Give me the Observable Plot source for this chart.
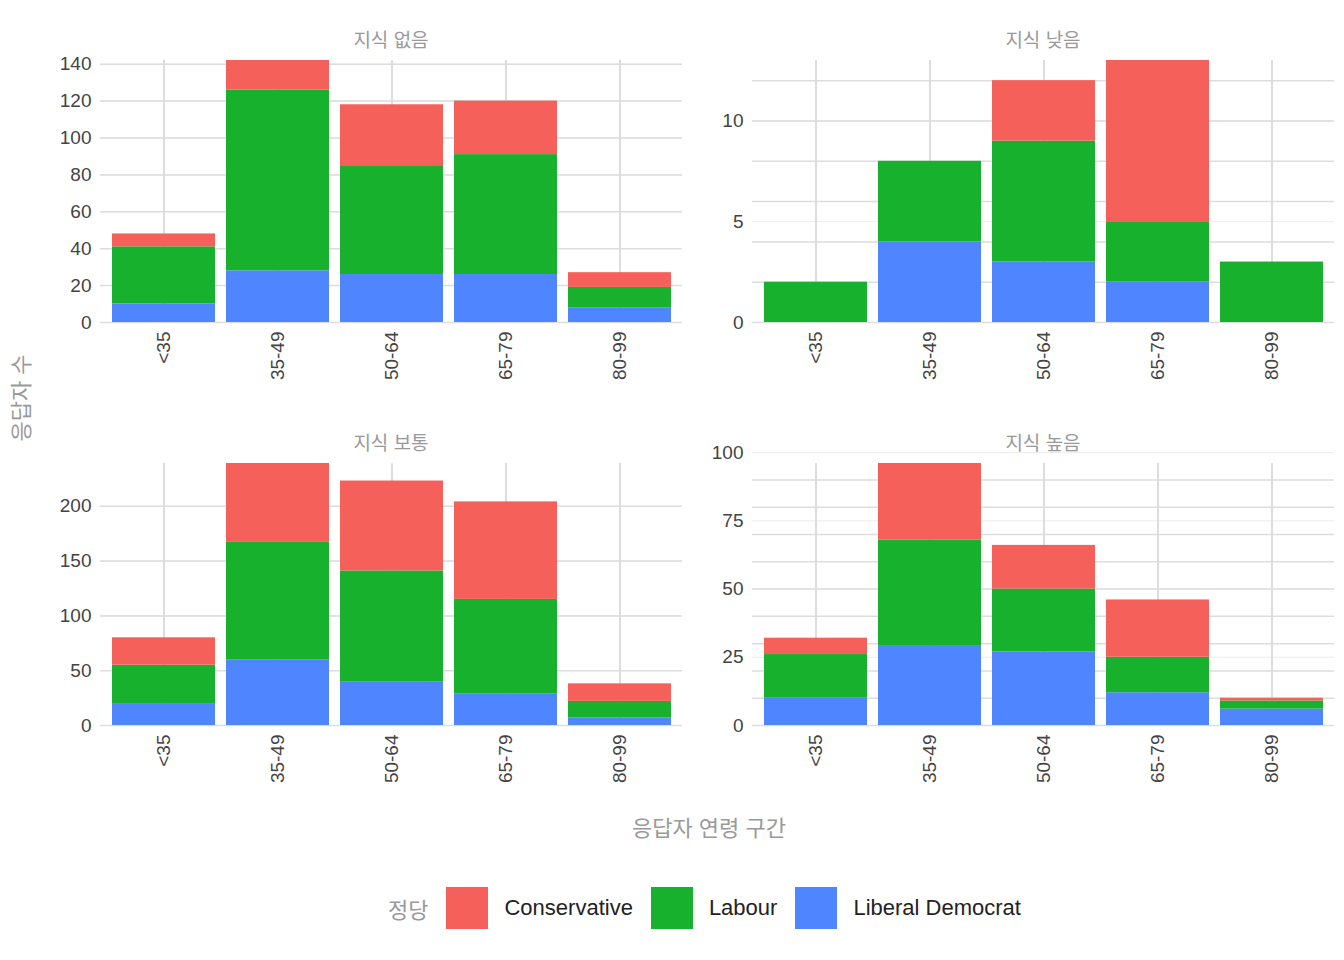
<!DOCTYPE html>
<html><head><meta charset="utf-8">
<script src="https://cdn.jsdelivr.net/npm/d3@7"></script>
<script src="https://cdn.jsdelivr.net/npm/@observablehq/plot@0.6"></script>
<style>
body{margin:0;background:#fff;font-family:"Liberation Sans","Noto Sans CJK KR",sans-serif;}
#wrap{position:relative;width:1344px;height:960px;}
.panel{position:absolute;width:652px;}
.ttl{position:absolute;top:0;font-size:19px;color:#999;text-align:center;}
.lbl{position:absolute;color:#999;font-size:22px;}
</style></head><body>
<div id="wrap"></div>
<script>
const ages = ["<35","35-49","50-64","65-79","80-99"];
const parties = ["Liberal Democrat","Labour","Conservative"];
const colors = ["#4F86FF","#17B12E","#F5605A"];
const facets = ["지식 없음","지식 낮음","지식 보통","지식 높음"];
// cumulative tops: [LD, Lab, Con] per age
const tops = [
  [[10,41,48],[28,126,142],[26,85,118],[26,91,120],[8,19,27]],
  [[0,2,2],[4,8,8],[3,9,12],[2,5,13],[0,3,3]],
  [[20,55,80],[60,167,239],[40,141,223],[29,115,204],[7,22,38]],
  [[10,26,32],[29,68,96],[27,50,66],[12,25,46],[6,9,10]]
];
const wrap = document.getElementById("wrap");
facets.forEach((f, i) => {
  const data = [];
  ages.forEach((a, j) => {
    let prev = 0;
    parties.forEach((p, k) => {
      data.push({age: a, party: p, n: tops[i][j][k] - prev});
      prev = tops[i][j][k];
    });
  });
  const left = i % 2 === 0 ? 40 : 692;
  const top = i < 2 ? 20 : 423;
  const div = document.createElement("div");
  div.className = "panel";
  div.style.left = left + "px"; div.style.top = top + "px";
  const t = document.createElement("div");
  t.className = "ttl"; t.textContent = f;
  t.style.left = "60px"; t.style.width = "582px"; t.style.top = "5px";
  div.appendChild(t);
  const chart = Plot.plot({
    width: 652, height: 390,
    marginLeft: 60, marginRight: 10, marginTop: 40, marginBottom: 88,
    style: {fontSize: "19px", color: "#444", fontFamily: "Liberation Sans, sans-serif"},
    x: {domain: ages, padding: 0.1, label: null, tickRotate: -90, tickSize: 0, grid: true},
    y: {label: null, grid: true, tickSize: 0, ticks: i === 1 ? [0,5,10] : i === 3 ? [0,25,50,75,100] : 5, nice: false},
    color: {domain: parties, range: colors},
    marks: [
      Plot.gridX(ages, {stroke: "#ddd", strokeOpacity: 1, strokeWidth: 2}),
      Plot.gridY({stroke: "#ddd", strokeOpacity: 1, strokeWidth: 1.5}),
      Plot.barY(data, {x: "age", y: "n", fill: "party", order: parties})
    ]
  });
  div.appendChild(chart);
  wrap.appendChild(div);
});
const yl = document.createElement("div");
yl.className = "lbl"; yl.textContent = "응답자 수";
yl.style.left = "-25px"; yl.style.top = "382px"; yl.style.transform = "rotate(-90deg)";
wrap.appendChild(yl);
const xl = document.createElement("div");
xl.className = "lbl"; xl.textContent = "응답자 연령 구간";
xl.style.left = "632px"; xl.style.top = "810px";
wrap.appendChild(xl);
const lg = document.createElement("div");
lg.style.cssText = "position:absolute;top:887px;left:388px;display:flex;align-items:center;font-size:22px;color:#222";
let html = '<span style="color:#999;margin-right:18px">정당</span>';
[["Conservative","#F5605A"],["Labour","#17B12E"],["Liberal Democrat","#4F86FF"]].forEach(([n,c]) => {
  html += `<span style="display:inline-block;width:42px;height:42px;background:${c};margin-right:16px"></span><span style="margin-right:18px">${n}</span>`;
});
lg.innerHTML = html;
wrap.appendChild(lg);
</script>
</body></html>
